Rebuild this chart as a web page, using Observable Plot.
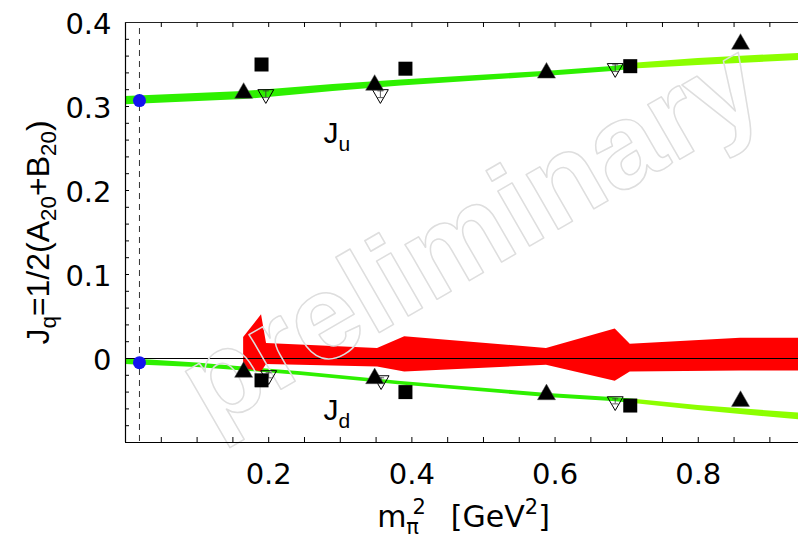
<!DOCTYPE html>
<html>
<head>
<meta charset="utf-8">
<script src="https://cdn.jsdelivr.net/npm/d3@7"></script>
<script src="https://cdn.jsdelivr.net/npm/@observablehq/plot@0.6"></script>
<style>
  html, body { margin: 0; padding: 0; background: #fff; }
  #chart svg { display: block; }
</style>
</head>
<body>
<div id="chart"></div>
<script>
// ---------- scales / ticks ----------
const xDomain = [0, 0.94];
const yDomain = [-0.1, 0.4];
const xTickLabels = [0.2, 0.4, 0.6, 0.8];
const yTickLabels = [0, 0.1, 0.2, 0.3, 0.4];
const xMinorTicks = [0.05, 0.1, 0.15, 0.2, 0.25, 0.3, 0.35, 0.4, 0.45, 0.5, 0.55, 0.6, 0.65, 0.7, 0.75, 0.8, 0.85, 0.9];
const yMinorTicks = [-0.08, -0.06, -0.04, -0.02, 0, 0.02, 0.04, 0.06, 0.08, 0.1, 0.12, 0.14, 0.16, 0.18, 0.2,
                     0.22, 0.24, 0.26, 0.28, 0.3, 0.32, 0.34, 0.36, 0.38];
const physMpi2 = 0.0195;

// ---------- J_u lattice points ----------
const juTriX = [0.165, 0.348, 0.588, 0.859];
const juTriY = [0.316, 0.3255, 0.340, 0.3743];
const juSqX = [0.190, 0.391, 0.705];
const juSqY = [0.350, 0.345, 0.348];
const juOpenX = [0.196, 0.356, 0.684];
const juOpenY = [0.3146, 0.3146, 0.3456];
const juOpenErr = [0.004, 0.004, 0.004];

// ---------- J_d lattice points ----------
const jdTriX = [0.165, 0.348, 0.588, 0.859];
const jdTriY = [-0.0162, -0.0238, -0.0429, -0.0508];
const jdSqX = [0.190, 0.391, 0.705];
const jdSqY = [-0.026, -0.040, -0.056];
const jdOpenX = [0.200, 0.357, 0.684];
const jdOpenY = [-0.020, -0.026, -0.051];
const jdOpenErr = [0.003, 0.003, 0.003];

// ---------- physical-point values ----------
const physY = [0.307, -0.005];

// ---------- chiral fit bands ----------
const juBandX = [0, 0.165, 0.29, 0.385, 0.59, 0.685, 0.71, 0.80, 0.94];
const juBandMid = [0.307, 0.313, 0.322, 0.328, 0.339, 0.345, 0.348, 0.353, 0.359];
const juBandHalf = [0.0048, 0.0048, 0.0042, 0.0036, 0.003, 0.003, 0.0034, 0.0042, 0.0042];
const jdBandX = [0, 0.1, 0.165, 0.245, 0.385, 0.59, 0.685, 0.71, 0.80, 0.94];
const jdBandMid = [-0.0036, -0.008, -0.0125, -0.018, -0.0295, -0.044, -0.049, -0.051, -0.059, -0.069];
const jdBandHalf = [0.0036, 0.0026, 0.0024, 0.0021, 0.0021, 0.0024, 0.0024, 0.0025, 0.003, 0.004];
const bandSplitX = 0.71;

// ---------- red band ----------
const redX  = [0.165, 0.190, 0.197, 0.352, 0.390, 0.588, 0.684, 0.705, 0.859, 0.94];
const redLo = [-0.012, -0.016, -0.007, -0.010, -0.016, -0.008, -0.027, -0.016, -0.015, -0.015];
const redHi = [0.025, 0.052, 0.018, 0.012, 0.026, 0.012, 0.035, 0.017, 0.024, 0.024];

// ---------- labels ----------
const curveLabels = ["J_{u}", "J_{d}"];
const curveLabelX = [0.2765, 0.2765];
const curveLabelY = [0.256, -0.0738];
const xTitle = "m_{π}^{2}\u00a0\u00a0\u2009[GeV^{2}]";
const yTitle = "J_{q}=1/2(A_{20}+B_{20})";
const watermark = "preliminary";

// ---------- build tables ----------
const pts = (xs, ys, extra) => xs.map((x, i) => ({x, y: ys[i], e: extra ? extra[i] : 0}));
const band = (xs, mid, half) => xs.map((x, i) => ({x, lo: mid[i] - half[i], hi: mid[i] + half[i]}));
const juBand = band(juBandX, juBandMid, juBandHalf);
const jdBand = band(jdBandX, jdBandMid, jdBandHalf);
const redBand = redX.map((x, i) => ({x, lo: redLo[i], hi: redHi[i]}));
const triPts = pts(juTriX, juTriY).concat(pts(jdTriX, jdTriY));
const sqPts = pts(juSqX, juSqY).concat(pts(jdSqX, jdSqY));
const openPts = pts(juOpenX, juOpenY, juOpenErr).concat(pts(jdOpenX, jdOpenY, jdOpenErr));
const physPts = physY.map(y => ({x: physMpi2, y}));
const labels = curveLabels.map((t, i) => ({t, x: curveLabelX[i], y: curveLabelY[i]}));

const W = 798, H = 538, mL = 125, mR = 0, mT = 22, mB = 96;
const plotW = W - mL - mR, plotH = H - mT - mB;
const green1 = "#2ef000", green2 = "#8cff00";
const font = "Liberation Sans, Arial, Helvetica, sans-serif";
const wide = "DejaVu Sans, Verdana, sans-serif";

const capSymbol = {draw(ctx, size) { const w = Math.sqrt(size); ctx.moveTo(-w / 2, 0); ctx.lineTo(w / 2, 0); }};

const chart = Plot.plot({
  width: W, height: H,
  marginLeft: mL, marginRight: mR, marginTop: mT, marginBottom: mB,
  x: {domain: xDomain},
  y: {domain: yDomain},
  style: {fontFamily: font, fontSize: "29px", background: "white", color: "black", overflow: "visible"},
  marks: [
    // bands
    Plot.areaY(juBand.filter(d => d.x <= bandSplitX), {x: "x", y1: "lo", y2: "hi", fill: green1}),
    Plot.areaY(juBand.filter(d => d.x >= bandSplitX), {x: "x", y1: "lo", y2: "hi", fill: green2}),
    Plot.areaY(jdBand.filter(d => d.x <= bandSplitX), {x: "x", y1: "lo", y2: "hi", fill: green1}),
    Plot.areaY(jdBand.filter(d => d.x >= bandSplitX), {x: "x", y1: "lo", y2: "hi", fill: green2}),
    Plot.areaY(redBand, {x: "x", y1: "lo", y2: "hi", fill: "#ff0000"}),
    // zero line & physical point line
    Plot.ruleY([0], {stroke: "black", strokeWidth: 1}),
    Plot.ruleX([physMpi2], {stroke: "#333", strokeWidth: 1, strokeDasharray: "6,5", insetTop: 6}),
    // watermark
    Plot.text([watermark], {frameAnchor: "top-left", dx: 490 - mL, dy: 268 - mT, rotate: -30,
      textAnchor: "middle", lineAnchor: "bottom", fontSize: 120, fontWeight: "bold",
      fill: "none", stroke: "#dedede", strokeWidth: 1.5}),
    // open inverted triangles with error bars
    Plot.ruleX(openPts, {x: "x", y1: d => d.y - d.e, y2: d => d.y + d.e, stroke: "#333", strokeWidth: 0.8}),
    Plot.dot(openPts, {x: "x", y: d => d.y + d.e, symbol: capSymbol, r: 3.4, stroke: "#333", strokeWidth: 0.8}),
    Plot.dot(openPts, {x: "x", y: d => d.y - d.e, symbol: capSymbol, r: 3.4, stroke: "#333", strokeWidth: 0.8}),
    Plot.dot(openPts, {x: "x", y: "y", symbol: "triangle", rotate: 180, r: 5.9, fill: "none", stroke: "black", strokeWidth: 1}),
    // filled markers
    Plot.dot(triPts, {x: "x", y: "y", symbol: "triangle", r: 6.7, fill: "black", stroke: "#555", strokeWidth: 0.5}),
    Plot.dot(sqPts, {x: "x", y: "y", symbol: "square", r: 7.9, fill: "black"}),
    Plot.dot(physPts, {x: "x", y: "y", r: 6.5, fill: "#1414ee"}),
    // curve labels
    Plot.text(labels, {x: "x", y: "y", text: "t", textAnchor: "start", lineAnchor: "bottom", fontSize: 30, fill: "black"}),
    // frame lines
    Plot.ruleX([xDomain[0]], {stroke: "black", strokeWidth: 1.2}),
    Plot.ruleY([yDomain[1]], {stroke: "#222", strokeWidth: 1}),
    Plot.ruleY([yDomain[0]], {stroke: "black", strokeWidth: 1.2}),
    // minor ticks (inward)
    Plot.tickX(xMinorTicks, {x: d => d, insetTop: plotH - 5, stroke: "black"}),
    Plot.tickX(xMinorTicks, {x: d => d, insetBottom: plotH - 5, stroke: "black"}),
    Plot.tickY(yMinorTicks, {y: d => d, insetRight: plotW - 4, stroke: "black"}),
    // tick labels
    Plot.axisX({ticks: xTickLabels, anchor: "bottom", tickSize: 0, tickPadding: 21, fontSize: 29, fontFamily: wide,
      tickFormat: d => d.toFixed(1), label: null}),
    Plot.axisY({ticks: yTickLabels, anchor: "left", tickSize: 0, tickPadding: 14, fontSize: 29, fontFamily: wide, dy: 2,
      tickFormat: d => d === 0 ? "0" : d.toFixed(1), label: null}),
    // axis titles
    Plot.text([xTitle], {frameAnchor: "bottom", dx: 463 - (mL + plotW / 2), dy: 526 - (H - mB),
      textAnchor: "middle", lineAnchor: "bottom", fontSize: 30, fontFamily: wide, fill: "black"}),
    Plot.text([yTitle], {frameAnchor: "left", dx: 48 - mL, dy: 0, rotate: -90,
      textAnchor: "middle", lineAnchor: "bottom", fontSize: 32, fill: "black"})
  ]
});

document.getElementById("chart").appendChild(chart);

// ---------- sub/superscript rendering ----------
function richify(root) {
  root.querySelectorAll("text").forEach(t => {
    const s = t.textContent;
    if (!/[_^]\{/.test(s)) return;
    const fs = parseFloat(getComputedStyle(t).fontSize) || 29;
    const re = /([_^])\{([^}]*)\}|([^_^]+)/g;
    let m, cur = 0, prev = null;
    while (t.firstChild) t.removeChild(t.firstChild);
    while ((m = re.exec(s))) {
      const ts = document.createElementNS("http://www.w3.org/2000/svg", "tspan");
      let target = 0;
      if (m[1] === "_") { target = 0.24 * fs; ts.setAttribute("font-size", (0.7 * fs).toFixed(1)); ts.textContent = m[2]; }
      else if (m[1] === "^") { target = -0.42 * fs; ts.setAttribute("font-size", (0.7 * fs).toFixed(1)); ts.textContent = m[2];
        if (prev === "_") ts.setAttribute("dx", (-0.22 * fs).toFixed(1)); }
      else { ts.textContent = m[3]; }
      const dy = target - cur;
      if (Math.abs(dy) > 1e-6) ts.setAttribute("dy", dy.toFixed(2));
      cur = target;
      prev = m[1] || "n";
      t.appendChild(ts);
    }
  });
}
richify(chart);
</script>
</body>
</html>
